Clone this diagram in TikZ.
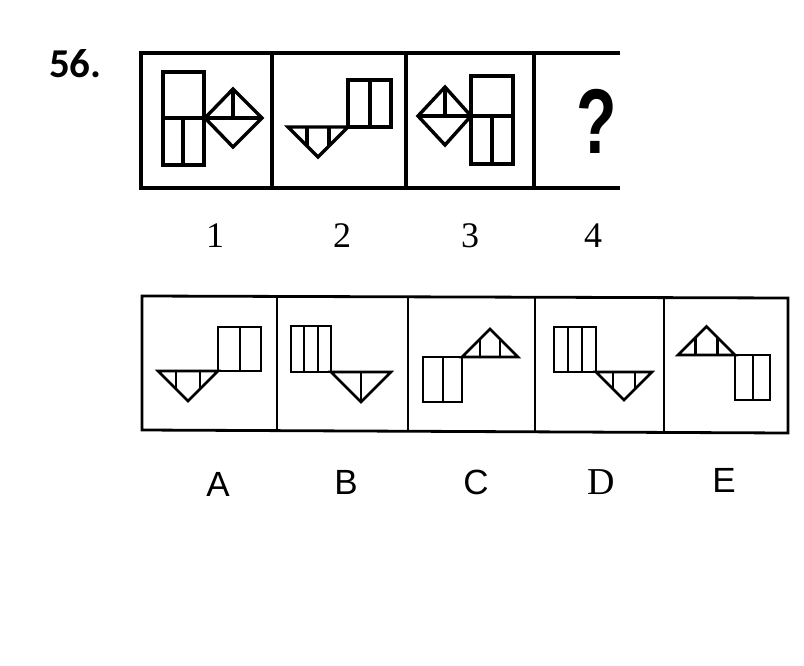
\documentclass[tikz,border=0pt]{standalone}
\usepackage{fontspec}
\setmainfont{Liberation Serif}
\setsansfont{Liberation Sans}
\newfontfamily\numfont{Carlito}
\usetikzlibrary{positioning}

\begin{document}
\begin{tikzpicture}[x=1pt,y=-1pt,
    topframe/.style={line width=3.8pt},
    botframe/.style={line width=2.8pt},
    topfig/.style={line width=3.4pt},
    botfig/.style={line width=2.6pt},
    numlabel/.style={font=\fontsize{36}{36}\selectfont},
    optlabel/.style={font=\sffamily\fontsize{35}{35}\selectfont}]
\useasboundingbox (0,0) rectangle (804,665);

\node[anchor=north west,inner sep=0] (qnum) at (49,49) {\numfont\bfseries\fontsize{41}{41}\selectfont 56.};

% top row, open on the right
\draw[topframe] (620,53) -- (141,53) -- (141,188) -- (620,188);
\foreach \x in {272,406,534}
    \draw[topframe] (\x,53) -- (\x,188);

% 1
\draw[topfig] (163,72) rectangle (204,165);
\draw[topfig] (163,118) -- (204,118) (183,118) -- (183,165);
\draw[topfig] (205,118) -- (233,89) -- (262,118) -- (233,147) -- cycle;
\draw[topfig] (205,118) -- (262,118) (233,89) -- (233,118);

% 2
\draw[topfig] (348,80) rectangle (391,127);
\draw[topfig] (370,80) -- (370,127);
\draw[topfig] (288,127) -- (348,127) -- (318,157) -- cycle;
\draw[topfig] (307,127) -- (307,146) (329,127) -- (329,146);

% 3
\draw[topfig] (418,116) -- (445,87) -- (471,116) -- (445,145) -- cycle;
\draw[topfig] (418,116) -- (471,116) (445,87) -- (445,116);
\draw[topfig] (471,76) rectangle (513,164);
\draw[topfig] (471,116) -- (513,116) (492,116) -- (492,164);

% 4
\node[xscale=0.72,inner sep=0] (qmark) at (597,121) {\sffamily\bfseries\fontsize{92}{92}\selectfont ?};

\node[numlabel] (n1) at (215,236) {1};
\node[numlabel] (n2) at (342,236) {2};
\node[numlabel] (n3) at (470,236) {3};
\node[numlabel] (n4) at (593,236) {4};

% answer row
\draw[botframe] (142,296) -- (788,298) -- (788,433) -- (142,430) -- cycle;
\foreach \x in {277,408,535,664}
    \draw[botframe] (\x,297) -- (\x,431);

% A
\draw[botfig] (218,327) rectangle (261,371);
\draw[botfig] (240,327) -- (240,371);
\draw[botfig] (158,371) -- (218,371) -- (188,401) -- cycle;
\draw[botfig] (176,371) -- (176,389) (200,371) -- (200,389);

% B
\draw[botfig] (291,326) rectangle (331,372);
\draw[botfig] (304,326) -- (304,372) (318,326) -- (318,372);
\draw[botfig] (331,372) -- (391,372) -- (361,402) -- cycle;
\draw[botfig] (361,372) -- (361,402);

% C
\draw[botfig] (423,357) rectangle (462,402);
\draw[botfig] (443,357) -- (443,402);
\draw[botfig] (462,357) -- (518,357) -- (490,329) -- cycle;
\draw[botfig] (480,357) -- (480,339) (500,357) -- (500,339);

% D
\draw[botfig] (554,327) rectangle (596,372);
\draw[botfig] (568,327) -- (568,372) (582,327) -- (582,372);
\draw[botfig] (596,372) -- (652,372) -- (624,400) -- cycle;
\draw[botfig] (613,372) -- (613,389) (635,372) -- (635,389);

% E
\draw[botfig] (678,355) -- (735,355) -- (706.5,326.5) -- cycle;
\draw[botfig] (695.5,355) -- (695.5,337.5) (717.5,355) -- (717.5,337.5);
\draw[botfig] (735,355) rectangle (770,400);
\draw[botfig] (753,355) -- (753,400);

\node[optlabel] (la) at (218,484) {A};
\node[optlabel] (lb) at (346,482) {B};
\node[optlabel] (lc) at (476,482) {C};
\node[numlabel,font=\fontsize{38}{38}\selectfont] (ld) at (601,482) {D};
\node[optlabel] (le) at (724,480) {E};
\end{tikzpicture}
\end{document}
